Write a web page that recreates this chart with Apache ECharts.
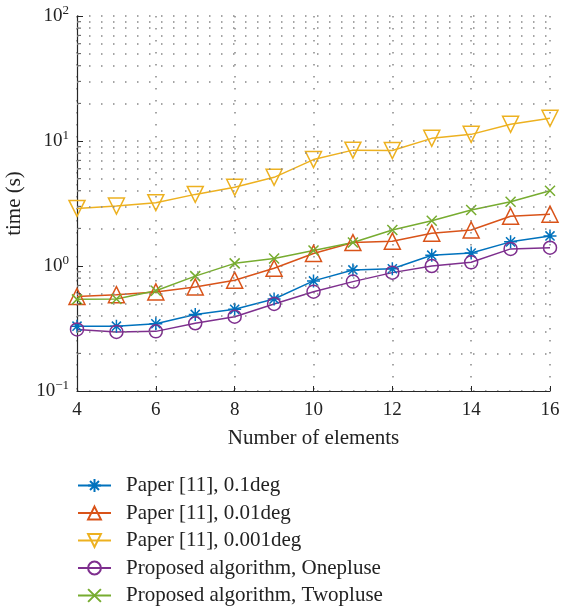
<!DOCTYPE html>
<html>
<head>
<meta charset="utf-8">
<script src="https://cdn.jsdelivr.net/npm/echarts@6/dist/echarts.min.js"></script>
<style>
  html, body { margin: 0; padding: 0; background: #fff; }
  #chart { width: 562px; height: 607px; }
</style>
</head>
<body>
<div id="chart"></div>
<script>
// number of elements
var elements = [4, 5, 6, 7, 8, 9, 10, 11, 12, 13, 14, 15, 16];
// time (s)
var paper01 = [0.33, 0.33, 0.345, 0.41, 0.45, 0.545, 0.76, 0.93, 0.95, 1.22, 1.27, 1.56, 1.74];
var paper001 = [0.57, 0.59, 0.62, 0.68, 0.77, 0.96, 1.26, 1.54, 1.58, 1.83, 1.94, 2.5, 2.6];
var paper0001 = [2.89, 3.02, 3.21, 3.74, 4.26, 5.12, 7.1, 8.45, 8.4, 10.5, 11.3, 13.6, 15.2];
var onepluse = [0.311, 0.297, 0.30, 0.348, 0.393, 0.497, 0.623, 0.75, 0.885, 1.0, 1.07, 1.37, 1.40];
var twopluse = [0.541, 0.544, 0.634, 0.83, 1.05, 1.15, 1.33, 1.54, 1.94, 2.3, 2.81, 3.27, 4.0];

var seriesNames = ['Paper [11], 0.1deg', 'Paper [11], 0.01deg', 'Paper [11], 0.001deg',
  'Proposed algorithm, Onepluse', 'Proposed algorithm, Twopluse'];
// minor log grid values
var minorValues = [0.2, 0.3, 0.4, 0.5, 0.6, 0.7, 0.8, 0.9,
  2, 3, 4, 5, 6, 7, 8, 9,
  20, 30, 40, 50, 60, 70, 80, 90];

var font = '"Liberation Serif", "DejaVu Serif", serif';
var axisColor = '#262626';
var dotted = { color: '#888', width: 1.5, type: [1.5, 10.5] };

var asterisk = 'path://M5,0L5,10M0,5L10,5M1.5,1.5L8.5,8.5M1.5,8.5L8.5,1.5';
var cross = 'path://M0,0L10,10M0,10L10,0';
var downTri = 'path://M0,0L10,0L5,8.66Z';

function pairs(arr) {
  return arr.map(function (v, i) { return [elements[i], v]; });
}

function lineSeries(name, data, color, symbol, size) {
  return {
    name: name,
    type: 'line',
    data: pairs(data),
    symbol: symbol,
    symbolSize: size,
    showAllSymbol: true,
    color: color,
    lineStyle: { color: color, width: 1.5 },
    itemStyle: { color: 'rgba(255,255,255,0)', borderColor: color, borderWidth: 1.5 },
    emphasis: { disabled: true },
    z: 3
  };
}

var chart = echarts.init(document.getElementById('chart'));

var series = [
  lineSeries(seriesNames[0], paper01, '#0072BD', asterisk, 13),
  lineSeries(seriesNames[1], paper001, '#D95319', 'triangle', 16),
  lineSeries(seriesNames[2], paper0001, '#EDB120', downTri, 16),
  lineSeries(seriesNames[3], onepluse, '#7E2F8E', 'circle', 13),
  lineSeries(seriesNames[4], twopluse, '#77AC30', cross, 10)
];

// minor horizontal grid lines
series.push({
  type: 'line',
  data: [],
  silent: true,
  markLine: {
    silent: true,
    symbol: 'none',
    label: { show: false },
    lineStyle: dotted,
    data: minorValues.map(function (v) { return { yAxis: v }; })
  }
});
// minor ticks on the y axis
series.push({
  type: 'scatter',
  silent: true,
  data: minorValues.map(function (v) { return [4, v]; }),
  symbol: 'rect',
  symbolSize: [4, 1],
  symbolOffset: [2, 0],
  itemStyle: { color: axisColor },
  z: 4
});

chart.setOption({
  animation: false,
  textStyle: { fontFamily: font },
  grid: { left: 77, top: 16, width: 473, height: 375, containLabel: false, outerBoundsMode: 'none' },
  xAxis: {
    type: 'value',
    min: 4, max: 16, interval: 2,
    name: 'Number of elements',
    nameLocation: 'middle',
    nameGap: 37,
    nameTextStyle: { fontFamily: font, fontSize: 21, color: '#222' },
    axisLine: { lineStyle: { color: axisColor, width: 1.2 } },
    axisTick: { inside: true, length: 5, lineStyle: { color: axisColor } },
    axisLabel: { fontFamily: font, fontSize: 19, color: '#222', margin: 10 },
    splitLine: { show: true, lineStyle: dotted }
  },
  yAxis: {
    type: 'log',
    logBase: 10,
    min: 0.1, max: 100,
    name: 'time (s)',
    nameLocation: 'middle',
    nameGap: 48,
    nameTextStyle: { fontFamily: font, fontSize: 21, color: '#222' },
    axisLine: { show: true, lineStyle: { color: axisColor, width: 1.2 } },
    axisTick: { show: true, inside: true, length: 6, lineStyle: { color: axisColor } },
    axisLabel: {
      margin: 8,
      formatter: function (v) {
        var e = Math.round(Math.log10(v));
        var s = e < 0 ? '\u2212' + (-e) : '' + e;
        return '{b|10}{s|' + s + '}';
      },
      rich: {
        b: { fontFamily: font, fontSize: 19, color: '#222' },
        s: { fontFamily: font, fontSize: 13, color: '#222', verticalAlign: 'bottom', padding: [0, 0, 10, 0] }
      }
    },
    splitLine: { show: true, lineStyle: dotted }
  },
  legend: {
    orient: 'vertical',
    left: 77,
    top: 475,
    height: 132,
    padding: 0,
    itemWidth: 33,
    itemHeight: 16,
    itemGap: 6.5,
    data: seriesNames,
    textStyle: { fontFamily: font, fontSize: 21, color: '#222', padding: [0, 0, 0, 10] }
  },
  series: series
});
</script>
</body>
</html>
